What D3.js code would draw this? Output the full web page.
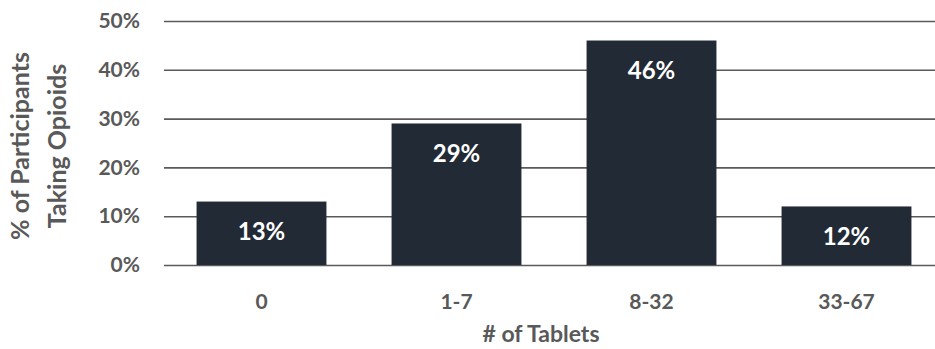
<!DOCTYPE html>
<html>
<head>
<meta charset="utf-8">
<script src="https://cdn.jsdelivr.net/npm/d3@7/dist/d3.min.js"></script>
<style>
  html, body { margin: 0; padding: 0; background: #ffffff; }
  svg { display: block; }
  text { font-family: Lato, "Open Sans", sans-serif; font-weight: bold; }
</style>
</head>
<body>
<svg id="chart" width="935" height="349"></svg>
<script>
// Share of participants by number of opioid tablets taken
const categories = ["0", "1-7", "8-32", "33-67"];
const percentages = [13, 29, 46, 12];
const yTicks = [0, 10, 20, 30, 40, 50];
const yTitleLines = ["% of Participants", "Taking Opioids"];
const xTitle = "# of Tablets";

const svg = d3.select("#chart");
const textGrey = "#595959";
const barFill = "#222a35";

const x = d3.scaleBand()
  .domain(categories)
  .range([164, 944])
  .paddingInner(0.334)
  .paddingOuter(0.167);

const y = d3.scaleLinear()
  .domain([0, 50])
  .range([265, 21]);

// Horizontal gridlines with percentage tick labels
const yAxis = d3.axisLeft(y)
  .tickValues(yTicks)
  .tickSize(-(944 - 164))
  .tickPadding(24)
  .tickFormat(d => d + "%");

const gy = svg.append("g")
  .attr("transform", "translate(164,0)")
  .call(yAxis);
gy.select(".domain").remove();
gy.selectAll(".tick line")
  .attr("stroke", "#5a5a5a")
  .attr("stroke-width", 1.6);
gy.selectAll(".tick text")
  .attr("fill", textGrey)
  .style("font-size", "21px");

// Bars
svg.append("g")
  .selectAll("rect")
  .data(percentages)
  .join("rect")
  .attr("x", (d, i) => x(categories[i]))
  .attr("y", d => y(d))
  .attr("width", x.bandwidth())
  .attr("height", d => y(0) - y(d))
  .attr("fill", barFill);

// Value labels inside the top of each bar
svg.append("g")
  .selectAll("text")
  .data(percentages)
  .join("text")
  .attr("x", (d, i) => x(categories[i]) + x.bandwidth() / 2)
  .attr("y", d => y(d) + 29)
  .attr("text-anchor", "middle")
  .attr("dominant-baseline", "central")
  .attr("fill", "#ffffff")
  .style("font-size", "24px")
  .text(d => d + "%");

// Category axis labels
const xAxis = d3.axisBottom(x).tickSize(0).tickPadding(29);
const gx = svg.append("g")
  .attr("transform", "translate(0,265)")
  .call(xAxis);
gx.select(".domain").remove();
gx.selectAll(".tick text")
  .attr("fill", textGrey)
  .style("font-size", "21px");

// Axis titles
svg.append("text")
  .attr("x", 541)
  .attr("y", 342)
  .attr("text-anchor", "middle")
  .attr("fill", textGrey)
  .style("font-size", "23px")
  .text(xTitle);

const yTitle = svg.append("text")
  .attr("transform", "translate(0,146) rotate(-90)")
  .attr("text-anchor", "middle")
  .attr("fill", textGrey)
  .style("font-size", "25px");
yTitle.selectAll("tspan")
  .data(yTitleLines)
  .join("tspan")
  .attr("x", 0)
  .attr("y", (d, i) => 29 + i * 37)
  .text(d => d);
</script>
</body>
</html>
